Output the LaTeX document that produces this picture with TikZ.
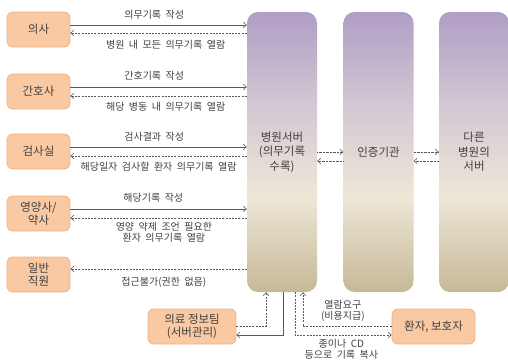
\documentclass[tikz,border=0pt]{standalone}
\usepackage{fontspec}
\setmainfont{Noto Sans CJK KR}
\newfontfamily\lblfont[WordSpace=2]{Noto Sans CJK KR}
\usetikzlibrary{arrows.meta}
\definecolor{ofill}{HTML}{F9C9A3}
\definecolor{odraw}{HTML}{F2B183}
\definecolor{txt}{HTML}{404040}
\definecolor{ln}{HTML}{5A5A5A}
\definecolor{spurple}{HTML}{B09EC5}
\definecolor{smid}{HTML}{D3C8D3}
\definecolor{scream}{HTML}{EEE7D8}
\definecolor{stan}{HTML}{C6B996}
\pgfdeclareverticalshading{srvshade}{100bp}{color(0bp)=(stan); color(25bp)=(stan); color(42bp)=(scream); color(58bp)=(smid); color(75bp)=(spurple); color(100bp)=(spurple)}
\tikzset{
  obox/.style={rounded corners=6pt, fill=ofill, draw=odraw, line width=0.8pt, text=txt,
    font=\fontsize{11.5}{13.5}\selectfont, align=center, inner sep=0pt,
    minimum width=63pt, minimum height=35pt},
  srvbox/.style={rounded corners=11pt, shade, shading=srvshade, draw=none, text=txt,
    font=\fontsize{11.5}{14.5}\selectfont, align=center, inner sep=0pt,
    minimum width=70pt, minimum height=280pt},
  tipa/.style={-{Straight Barb[length=3pt,width=5.5pt]}},
  sol/.style={tipa, draw=ln, line width=0.6pt},
  dsh/.style={tipa, draw=ln, line width=0.6pt, dash pattern=on 2pt off 1.2pt},
  dtt/.style={tipa, draw=ln, line width=0.6pt, dash pattern=on 0.8pt off 0.6pt},
  lbl/.style={text=txt, font=\lblfont\fontsize{10}{11.5}\selectfont, align=center, inner sep=0pt},
}
\begin{document}
\begin{tikzpicture}[x=1pt,y=-1pt]
\useasboundingbox (0,0) rectangle (508,360);
% left boxes
\node[obox] (doc) at (38.5,29.5) {의사};
\node[obox] (nur) at (38.5,91.5) {간호사};
\node[obox] (lab) at (38.5,151.5) {검사실};
\node[obox] (nut) at (38.5,213.5) {영양사/\\약사};
\node[obox] (gen) at (38.5,274.5) {일반\\직원};
% servers
\node[srvbox] (srv) at (282,152) {병원서버\\(의무기록\\수록)};
\node[srvbox] (cert) at (378.5,152) {인증기관};
\node[srvbox] (oth) at (474,152) {다른\\병원의\\서버};
% bottom boxes
\node[obox, minimum width=88pt] (info) at (192,326.5) {의료 정보팀\\(서버관리)};
\node[obox, minimum width=83pt] (pat) at (433.5,326.5) {환자, 보호자};
% left connectors
\draw[sol] ([yshift=4.5pt]doc.east) -- ([yshift=4.5pt]doc.east -| srv.west)
  node[lbl, pos=0.475, yshift=10.5pt] {의무기록 작성};
\draw[dsh] ([yshift=-3.5pt]doc.east -| srv.west) -- ([yshift=-3.5pt]doc.east)
  node[lbl, pos=0.46, yshift=-11.5pt] {병원 내 모든 의무기록 열람};
\draw[sol] ([yshift=4.5pt]nur.east) -- ([yshift=4.5pt]nur.east -| srv.west)
  node[lbl, pos=0.475, yshift=11pt] {간호기록 작성};
\draw[dsh] ([yshift=-4.5pt]nur.east -| srv.west) -- ([yshift=-4.5pt]nur.east)
  node[lbl, pos=0.46, yshift=-11pt] {해당 병동 내 의무기록 열람};
\draw[sol] ([yshift=4.5pt]lab.east) -- ([yshift=4.5pt]lab.east -| srv.west)
  node[lbl, pos=0.475, yshift=10.5pt] {검사결과 작성};
\draw[dsh] ([yshift=-4.5pt]lab.east -| srv.west) -- ([yshift=-4.5pt]lab.east)
  node[lbl, pos=0.50, yshift=-11pt] {해당일자 검사할 환자 의무기록 열람};
\draw[sol] ([yshift=4.5pt]nut.east) -- ([yshift=4.5pt]nut.east -| srv.west)
  node[lbl, pos=0.47, yshift=11pt] {해당기록 작성};
\draw[dsh] ([yshift=-4.5pt]nut.east -| srv.west) -- ([yshift=-4.5pt]nut.east)
  node[lbl, pos=0.47, yshift=-14.5pt] {영양 약제 조언 필요한\\환자 의무기록 열람};
\draw[dsh] ([yshift=5.5pt]gen.east -| srv.west) -- ([yshift=5.5pt]gen.east)
  node[lbl, pos=0.47, yshift=-13pt] {접근불가(권한 없음)};
% between servers
\draw[dtt] (srv.east) -- (srv.east -| cert.west);
\draw[dtt] ([yshift=-9pt]cert.west) -- ([yshift=-9pt]cert.west -| srv.east);
\draw[dtt] (cert.east) -- (cert.east -| oth.west);
\draw[dtt] ([yshift=-9pt]oth.west) -- ([yshift=-9pt]oth.west -| cert.east);
% bottom connectors
\draw[dsh] (info.east) -| ([xshift=-16pt]srv.south);
\draw[sol] ([xshift=1pt]srv.south) |- ([yshift=-8.5pt]info.east);
\draw[dsh] (pat.west) -| ([xshift=21pt]srv.south)
  node[lbl, pos=0.275, yshift=15.5pt] {열람요구\\(비용지급)};
\draw[dsh] ([xshift=13pt]srv.south) |- ([yshift=-8.5pt]pat.west)
  node[lbl, pos=0.74, yshift=-14pt] {종이나 CD\\등으로 기록 복사};
\end{tikzpicture}
\end{document}
